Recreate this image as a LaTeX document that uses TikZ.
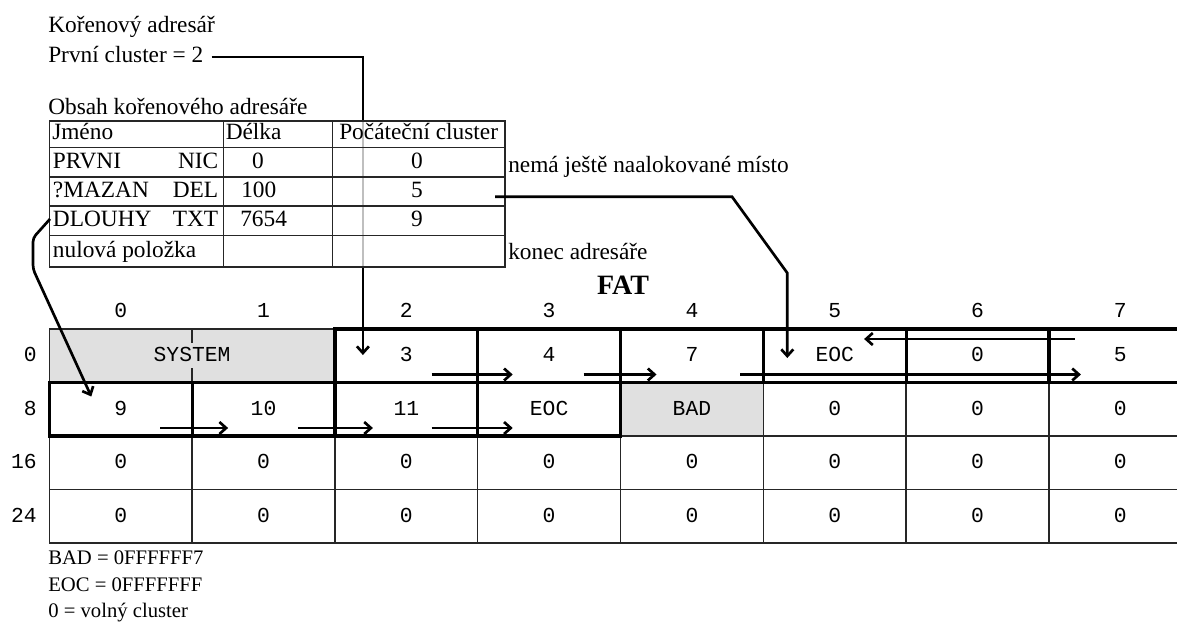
\documentclass[tikz,border=0pt]{standalone}
\usepackage{fontspec}
\setmainfont{Liberation Serif}
\setmonofont{Liberation Mono}
\usetikzlibrary{arrows.meta,backgrounds,positioning}
\definecolor{sysgray}{gray}{0.88}

\begin{document}
\begin{tikzpicture}[x=0.75pt,y=-0.75pt,
    txt/.style={inner sep=0pt,anchor=west,text height=12pt,text depth=3pt,
                font=\fontsize{17.5}{20}\selectfont},
    mono/.style={inner sep=0pt,text height=9pt,text depth=0pt,
                 font=\fontsize{16}{19}\selectfont\ttfamily},
    cell/.style={draw=black!85,line width=1pt,inner sep=0pt,outer sep=0pt,
                 minimum width=107.1pt,minimum height=40.125pt,
                 text height=9pt,text depth=0pt,
                 font=\fontsize{16}{19}\selectfont\ttfamily},
    chain/.style={line width=2.4pt},
    tline/.style={draw=black!85,line width=1.1pt},
    arr/.style={-{Straight Barb[length=5pt,width=9pt]},line width=2pt}]

  \path[use as bounding box,clip] (0,0) rectangle (1177,624);

  % root directory
  \node[txt] (root)  at (48,27)  {Kořenový adresář};
  \node[txt] (first) at (48,57)  {První cluster = 2};
  \node[txt] (cont)  at (48,109) {Obsah kořenového adresáře};

  % FAT cells
  \foreach \c/\t in {0/{},1/{},2/3,3/4,4/7,5/EOC,6/0,7/5}
    \node[cell] (c0\c) at ({120.7+142.8*\c},355.75) {\t};
  \foreach \c/\t in {0/9,1/10,2/11,3/EOC,4/BAD,5/0,6/0,7/0}
    \node[cell] (c1\c) at ({120.7+142.8*\c},409.25) {\t};
  \foreach \r/\y in {2/462.75,3/516.25}
    \foreach \c in {0,...,7}
      \node[cell] (c\r\c) at ({120.7+142.8*\c},\y) {0};

  \begin{scope}[on background layer]
    \fill[sysgray] (c00.north west) rectangle (c01.south east);
    \fill[sysgray] (c14.north west) rectangle (c14.south east);
  \end{scope}
  \node[mono,fill=sysgray,inner sep=5pt] (sys) at (c00.east) {SYSTEM};

  \draw[chain] (c02.north west) rectangle (c07.south east);
  \foreach \c in {2,...,6}
    \draw[chain] (c0\c.north east) -- (c0\c.south east);
  \draw[chain] (c10.north west) rectangle (c13.south east);
  \foreach \c in {0,1,2}
    \draw[chain] (c1\c.north east) -- (c1\c.south east);

  \foreach \c in {0,...,7}
    \node[mono] (h\c) at ([yshift=13.5pt]c0\c.north) {\c};
  \foreach \r/\l in {0/0,1/8,2/16,3/24}
    \node[mono,anchor=east] (r\r) at ([xshift=-9.2pt]c\r0.west) {\l};
  \node[font=\fontsize{21}{24}\selectfont\bfseries] (fat) at (623,285) {FAT};

  % first cluster of the root directory
  \draw[arr] ([xshift=6pt]first.east) -| ([shift={(28,26)}]c02.north west);

  % directory table
  \draw[tline,fill=white,fill opacity=0.75] (49.3,121) rectangle (505,267);
  \foreach \y in {147.5,177,206,235.5}
    \draw[tline] (49.3,\y) -- (505,\y);
  \foreach \x in {223.3,332.7}
    \draw[tline] (\x,121) -- (\x,267);

  \node[txt] (jm) at (52,134)  {Jméno};
  \node[txt] (dl) at (225.5,134) {Délka};
  \node[txt] (pc) at (339,134) {Počáteční cluster};

  \node[txt]              (n1) at (52.7,162)   {PRVNI};
  \node[txt,anchor=east]  (e1) at (218.5,162)  {NIC};
  \node[txt,anchor=center](l1) at (258,162)    {0};
  \node[txt,anchor=center](s1) at (417,162)    {0};
  \node[txt]              (n2) at (52.7,191.5) {?MAZAN};
  \node[txt,anchor=east]  (e2) at (218.5,191.5){DEL};
  \node[txt]              (l2) at (241,191.5)  {100};
  \node[txt,anchor=center](s2) at (417,191.5)  {5};
  \node[txt]              (n3) at (52.7,220.5) {DLOUHY};
  \node[txt,anchor=east]  (e3) at (218.5,220.5){TXT};
  \node[txt]              (l3) at (240,220.5)  {7654};
  \node[txt,anchor=center](s3) at (417,220.5)  {9};
  \node[txt]              (n4) at (52.7,251)   {nulová položka};

  \node[txt] (note1) at (508,166) {nemá ještě naalokované místo};
  \node[txt] (note2) at (508,253) {konec adresáře};

  \coordinate (p5) at (495,196.7);
  \coordinate (p9) at (50,219);

  % files -> first clusters
  \draw[arr] (p5) -- ++(237,0) -- ([shift={(24,-56)}]c05.north west)
                  -- ([shift={(24,29)}]c05.north west);
  \draw[arr,rounded corners=3pt] (p9) -- ++(-17,19) -- ++(0,31)
                  -- ([shift={(42,14)}]c10.north west);

  % cluster chains
  \foreach \a/\b/\s/\e in {c02/c03/46/35,c03/c04/37/36,c04/c07/23/32,
                           c10/c11/32/36,c11/c12/37/38,c12/c13/46/35}
    \draw[arr] ([shift={(-\s,-8)}]\a.south east) -- ([shift={(\e,-8)}]\b.south west);
  \draw[arr] ([shift={(26,10)}]c07.north west) -- ([shift={(-42,10)}]c05.north east);

  % legend
  \node[txt,font=\fontsize{15.5}{18}\selectfont] (leg1) at (48,558) {BAD = 0FFFFFF7};
  \node[txt,font=\fontsize{15.5}{18}\selectfont] (leg2) at (48,585) {EOC = 0FFFFFFF};
  \node[txt,font=\fontsize{15.5}{18}\selectfont] (leg3) at (48,611) {0 = volný cluster};
\end{tikzpicture}
\end{document}
